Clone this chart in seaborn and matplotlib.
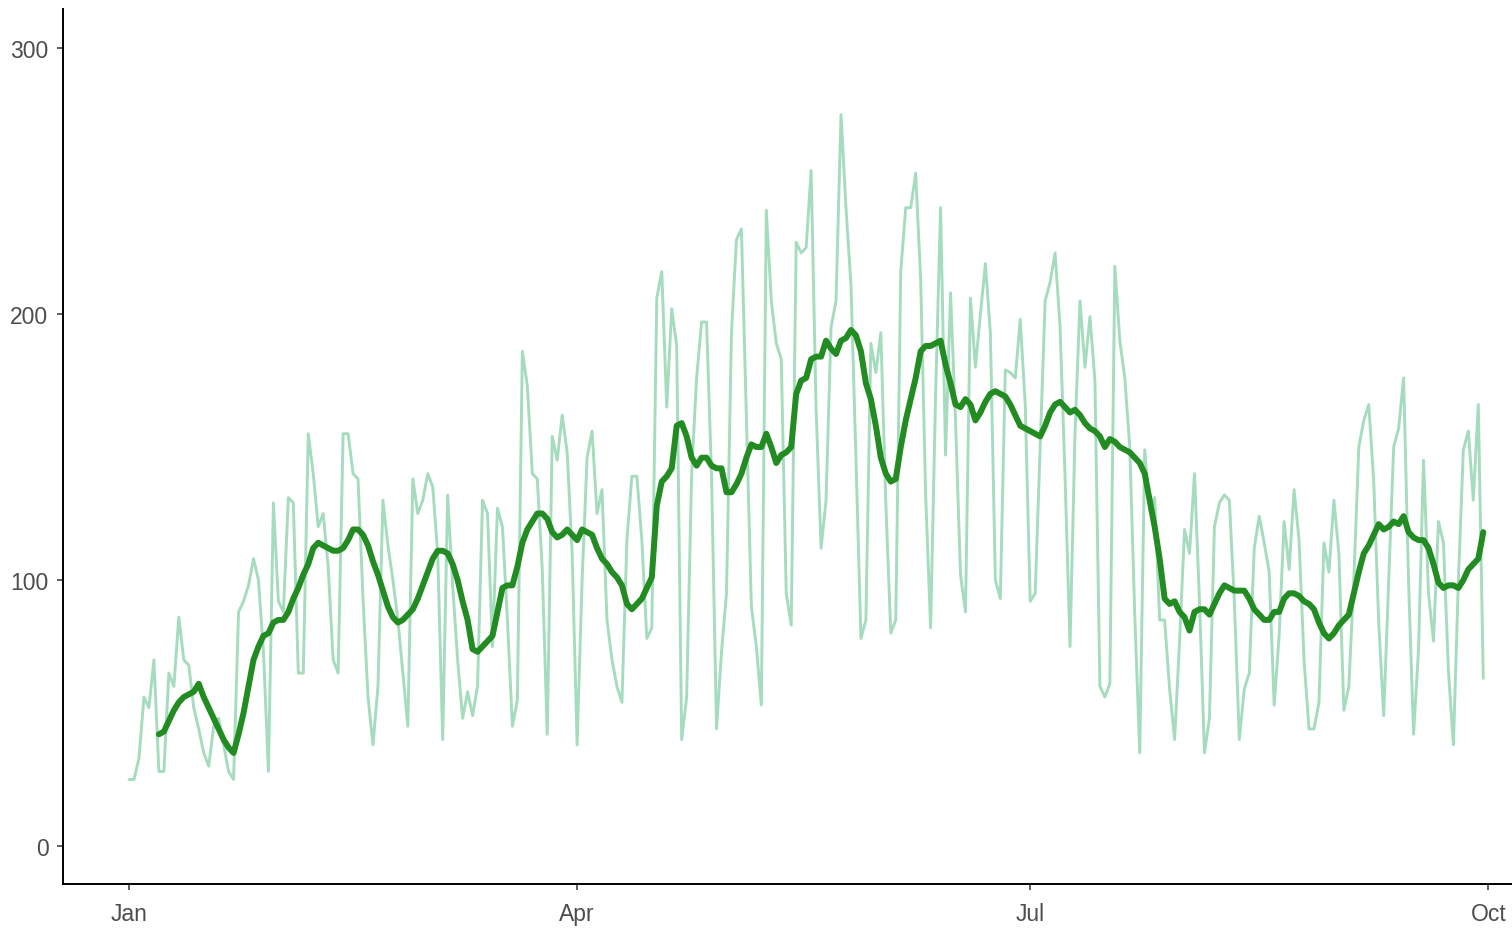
import numpy as np
import pandas as pd
import matplotlib
matplotlib.use("Agg")
import matplotlib.pyplot as plt
import seaborn as sns

# daily counts, 1 Jan - 30 Sep 2021
daily_counts = [
    25, 25, 33, 56, 52, 70, 28, 28, 65, 60, 86, 70, 68, 52, 44,
    35, 30, 45, 48, 38, 28, 25, 88, 92, 98, 108, 100, 73, 28, 129,
    92, 88, 131, 129, 65, 65, 155, 140, 120, 125, 105, 70, 65, 155, 155,
    140, 138, 93, 56, 38, 60, 130, 113, 100, 85, 65, 45, 138, 125, 130,
    140, 135, 110, 40, 132, 98, 70, 48, 58, 49, 60, 130, 125, 75, 127,
    120, 85, 45, 55, 186, 173, 140, 138, 104, 42, 154, 145, 162, 148, 110,
    38, 100, 146,
    156, 125, 134, 85, 70, 60, 54, 115, 139, 139, 115, 78, 82, 206, 216,
    165, 202, 188, 40, 56, 140, 176, 197, 197, 139, 44, 73, 95, 193, 228,
    232, 161, 90, 75, 53, 239, 205, 189, 183, 95, 83, 227, 223, 225, 254,
    164, 112,
    130, 195, 205, 275, 240, 211, 146, 78, 85, 189, 178, 193, 129, 80, 85,
    216, 240, 240, 253, 213, 132, 82, 170, 240, 147, 208, 160, 102, 88, 206,
    180, 200, 219, 193, 100, 93, 179, 178, 176, 198, 166, 92, 95, 150, 205,
    212,
    223, 195, 139, 75, 155, 205, 180, 199, 175, 60, 56, 61, 218, 190, 176,
    150, 87, 35, 149, 126, 131, 85, 85, 59, 40, 77, 119, 110, 140, 92,
    35, 48, 120, 129, 132, 130, 92, 40, 59, 65, 112, 124, 114,
    103, 53, 79, 122, 104, 134, 115, 70, 44, 44, 54, 114, 103, 130, 110,
    51, 60, 100, 150, 160, 166, 137, 84, 49, 100, 150, 157, 176, 99, 42,
    74, 145, 95, 77, 122, 114, 66, 38, 100, 149, 156, 130, 166, 63,
]

# 7-day average, starts on 7 Jan
avg_7day = [
    42, 43, 47, 51, 54, 56, 57, 58, 61, 56, 52, 48, 44, 40, 37,
    35, 42, 50, 60, 70, 75, 79, 80, 84, 85, 85, 88, 93, 97, 102,
    106, 112, 114, 113, 112, 111, 111, 112, 115, 119,
    119, 117, 113, 107, 102, 96, 90, 86, 84, 85, 87, 89, 93, 98, 103,
    108, 111, 111, 110, 106, 100, 92, 85, 74, 73, 75, 77, 79, 88, 97,
    98, 98, 105, 114, 119, 122, 125, 125, 123, 118, 116, 117, 119, 117, 115,
    119,
    118, 117, 112, 108, 106, 103, 101, 98, 91, 89, 91, 93, 97, 101, 128,
    137, 139, 142, 158, 159, 154, 146, 143, 146, 146, 143, 142, 142, 133, 133,
    136, 140, 146, 151, 150, 150, 155, 150, 144, 147, 148, 150, 170, 175, 176,
    183, 184, 184,
    190, 187, 185, 190, 191, 194, 192, 186, 174, 168, 158, 146, 140, 137, 138,
    150, 160, 168, 176, 186, 188, 188, 189, 190, 181, 174, 166, 165, 168, 166,
    160, 163, 167, 170, 171, 170, 169, 166, 162, 158, 157, 156, 155, 154, 158,
    163,
    166, 167, 165, 163, 164, 162, 159, 157, 156, 154, 150, 153, 152, 150, 149,
    148, 146, 144, 140, 130, 120, 108, 93, 91, 92, 88, 86, 81, 88, 89,
    89, 87, 91, 95, 98, 97, 96, 96, 96, 93, 89, 87, 85, 85, 88,
    88, 93, 95, 95, 94, 92, 91, 89, 84, 80, 78, 80, 83, 85, 87,
    95, 103, 110, 113, 117, 121, 119, 120, 122, 121, 124, 118, 116, 115, 115,
    112, 106, 99, 97, 98, 98, 97, 100, 104, 106, 108, 118,
]

tick_dates = ["2021-01-01", "2021-04-01", "2021-07-01", "2021-10-01"]
tick_labels = ["Jan", "Apr", "Jul", "Oct"]
y_ticks = [0, 100, 200, 300]

dates = pd.date_range("2021-01-01", periods=len(daily_counts), freq="D")
df = pd.DataFrame({"date": dates, "count": daily_counts})
df_avg = pd.DataFrame({"date": dates[len(dates) - len(avg_7day):], "avg": avg_7day})

sns.set_style("white")
plt.rcParams["font.family"] = ["Liberation Sans", "DejaVu Sans"]

fig = plt.figure(figsize=(15.12, 9.29), dpi=100)
ax = fig.add_axes([63 / 1512, 44 / 929, 1485 / 1512, 875 / 929])

sns.lineplot(data=df, x="date", y="count", color="#a5dcbe", linewidth=2.1, ax=ax)
sns.lineplot(data=df_avg, x="date", y="avg", color="#228B22", linewidth=4.3, ax=ax)

start = pd.Timestamp("2021-01-01")
ax.set_xlim(start - pd.Timedelta(days=13.26), start + pd.Timedelta(days=285.0))
ax.set_ylim(-14.3, 314.7)

ax.set_xticks(pd.to_datetime(tick_dates))
ax.set_xticklabels(tick_labels)
ax.set_yticks(y_ticks)
ax.set_yticklabels([str(v) for v in y_ticks])
ax.set_xlabel("")
ax.set_ylabel("")

for side in ["top", "right"]:
    ax.spines[side].set_visible(False)
for side in ["left", "bottom"]:
    ax.spines[side].set_color("black")
    ax.spines[side].set_linewidth(1.4)

ax.tick_params(axis="both", which="major", direction="out", length=4, width=1.1,
               color="#333333", labelsize=16.5, labelcolor="#4D4D4D",
               bottom=True, left=True)
ax.tick_params(axis="x", pad=9)
ax.tick_params(axis="y", pad=6.5)

fig.savefig("out.png", dpi=100)
